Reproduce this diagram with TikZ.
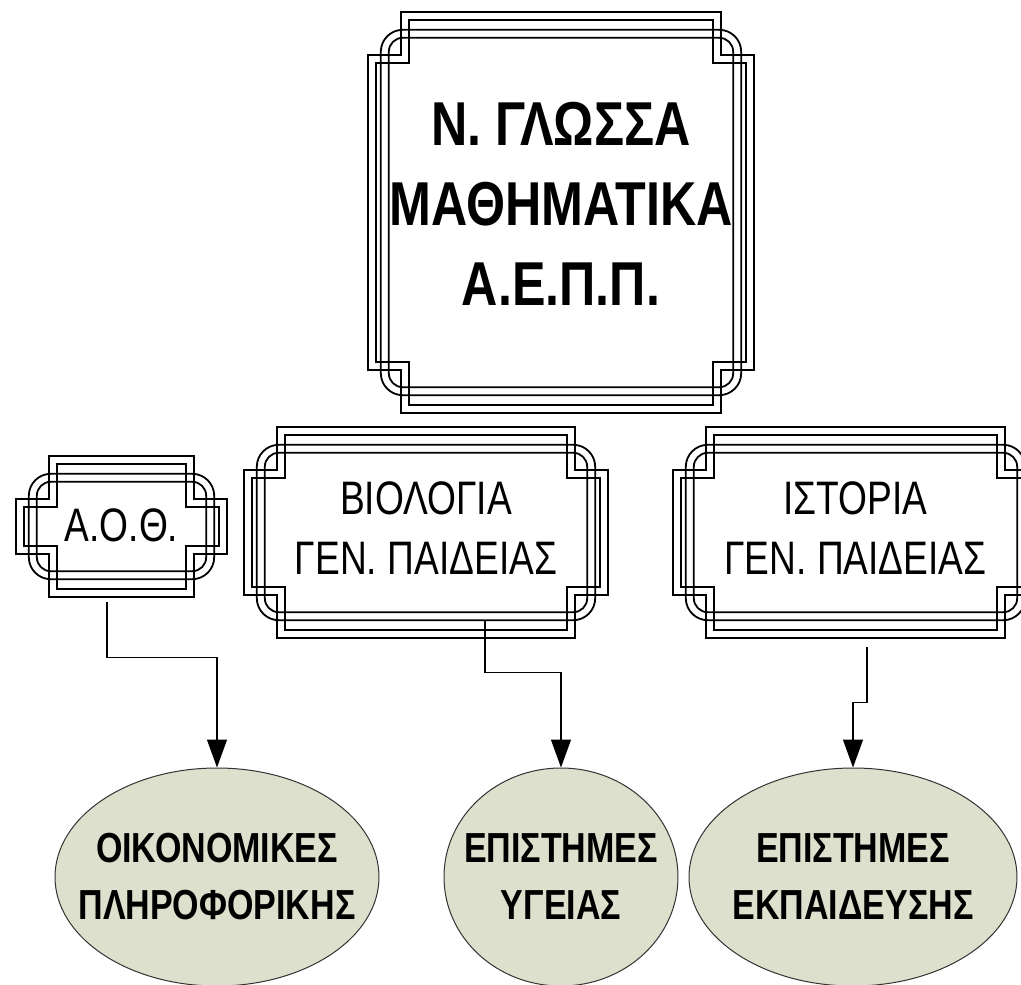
\documentclass[tikz,border=0pt]{standalone}
\usepackage{fontspec}
\setmainfont{Liberation Sans}
\newfontfamily\nbold[FakeStretch=0.81]{Liberation Sans}
\newfontfamily\nreg[FakeStretch=0.79]{Liberation Sans}
\usetikzlibrary{arrows.meta,shapes.geometric,calc}
\definecolor{ellfill}{HTML}{DDE0CC}
\def\fnx{33}
\def\fny{43}
% notched (cross-shaped) outline at inset #2 of node #1
\newcommand\notchline[2]{%
  \draw[frameline]
    ($(#1.north west)+(#2+\fnx,#2)$) -- ($(#1.north east)+(-#2-\fnx,#2)$)
    -- ($(#1.north east)+(-#2-\fnx,#2+\fny)$) -- ($(#1.north east)+(-#2,#2+\fny)$)
    -- ($(#1.south east)+(-#2,-#2-\fny)$) -- ($(#1.south east)+(-#2-\fnx,-#2-\fny)$)
    -- ($(#1.south east)+(-#2-\fnx,-#2)$) -- ($(#1.south west)+(#2+\fnx,-#2)$)
    -- ($(#1.south west)+(#2+\fnx,-#2-\fny)$) -- ($(#1.south west)+(#2,-#2-\fny)$)
    -- ($(#1.north west)+(#2,#2+\fny)$) -- ($(#1.north west)+(#2+\fnx,#2+\fny)$)
    -- cycle;}
% rounded rectangle at insets #2 (x), #3 (y), radius #4
\newcommand\roundline[4]{%
  \draw[frameline,rounded corners=#4]
    ($(#1.north west)+(#2,#3)$) rectangle ($(#1.south east)+(-#2,-#3)$);}
\newcommand\fancyframe[1]{%
  \notchline{#1}{0}\notchline{#1}{8}%
  \roundline{#1}{13}{18}{22pt}\roundline{#1}{21}{26}{14pt}}
\tikzset{
  frameline/.style={draw=black,line width=1.8pt,line join=miter},
  plaque/.style={inner sep=0pt},
  bigtext/.style={align=center,font=\nbold\bfseries\fontsize{62}{80}\selectfont},
  midtext/.style={align=center,font=\nreg\fontsize{47}{60}\selectfont},
  goal/.style={ellipse,draw=black!80,line width=1pt,fill=ellfill,inner sep=0pt},
  goaltext/.style={align=center,inner sep=0pt,font=\nbold\bfseries\fontsize{42}{57}\selectfont},
  conn/.style={draw=black,line width=1.3pt,-{Triangle[width=20pt,length=28pt]}}
}
\begin{document}
\begin{tikzpicture}[x=1pt,y=-1pt]
\useasboundingbox (0,0) rectangle (1021,985);
\fill[white] (0,0) rectangle (1021,985);

\node[plaque,minimum width=386pt,minimum height=401pt,
  label={[bigtext,yshift=9pt]center:Ν. ΓΛΩΣΣΑ\\ΜΑΘΗΜΑΤΙΚΑ\\Α.Ε.Π.Π.}] (top) at (561,212.5) {};
\node[plaque,minimum width=211pt,minimum height=141pt,
  label={[midtext,yshift=1pt]center:Α.Ο.Θ.}] (aoth) at (121.5,526.5) {};
\node[plaque,minimum width=364pt,minimum height=211pt,
  label={[midtext,yshift=4pt]center:ΒΙΟΛΟΓΙΑ\\ΓΕΝ. ΠΑΙΔΕΙΑΣ}] (bio) at (426,532.5) {};
\node[plaque,minimum width=365pt,minimum height=211pt,
  label={[midtext,yshift=4pt]center:ΙΣΤΟΡΙΑ\\ΓΕΝ. ΠΑΙΔΕΙΑΣ}] (ist) at (855.5,532.5) {};

\fancyframe{top}
\fancyframe{aoth}
\fancyframe{bio}
\fancyframe{ist}

\node[goal,minimum width=324pt,minimum height=218pt,
  label={[goaltext]center:ΟΙΚΟΝΟΜΙΚΕΣ\\ΠΛΗΡΟΦΟΡΙΚΗΣ}] (e1) at (217,877) {};
\node[goal,minimum width=234pt,minimum height=218pt,
  label={[goaltext]center:ΕΠΙΣΤΗΜΕΣ\\ΥΓΕΙΑΣ}] (e2) at (561,877) {};
\node[goal,minimum width=328pt,minimum height=218pt,
  label={[goaltext]center:ΕΠΙΣΤΗΜΕΣ\\ΕΚΠΑΙΔΕΥΣΗΣ}] (e3) at (853,877) {};

\draw[conn] ([xshift=-14.5pt,yshift=-5pt]aoth.south) -- ++(0,55) -| (e1.north);
\draw[conn] ([xshift=59pt,yshift=18pt]bio.south) -- ++(0,52) -| (e2.north);
\draw[conn] ([xshift=11.5pt,yshift=-9pt]ist.south) -- ++(0,55) -| (e3.north);
\end{tikzpicture}
\end{document}
